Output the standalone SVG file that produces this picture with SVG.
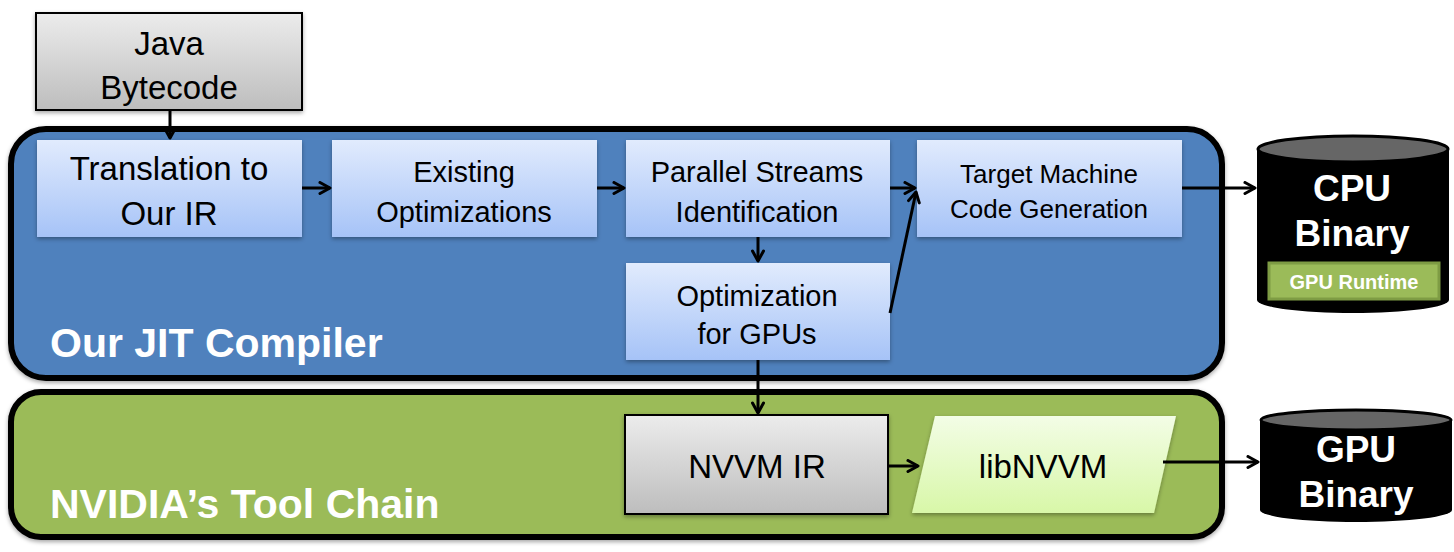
<svg xmlns="http://www.w3.org/2000/svg" width="1454" height="552" viewBox="0 0 1454 552">
<defs>
<linearGradient id="gGray" x1="0" y1="0" x2="0" y2="1"><stop offset="0" stop-color="#ececec"/><stop offset="1" stop-color="#bdbdbd"/></linearGradient>
<linearGradient id="gBlue" x1="0" y1="0" x2="0" y2="1"><stop offset="0" stop-color="#e1ebfd"/><stop offset="1" stop-color="#a6c3f7"/></linearGradient>
<linearGradient id="gLime" x1="0" y1="0" x2="0" y2="1"><stop offset="0" stop-color="#f3fde6"/><stop offset="1" stop-color="#d8f7a8"/></linearGradient>
<filter id="sh" x="-10%" y="-10%" width="120%" height="130%"><feDropShadow dx="0" dy="2" stdDeviation="2" flood-color="#000" flood-opacity="0.35"/></filter>
<marker id="ah" viewBox="0 0 14 14" refX="12" refY="7" markerWidth="14" markerHeight="14" markerUnits="userSpaceOnUse" orient="auto"><path d="M2,1.5 L12,7 L2,12.5" fill="none" stroke="#000" stroke-width="3" stroke-linecap="round" stroke-linejoin="round"/></marker>
</defs>
<style>
.t{font-family:"Liberation Sans",Arial,sans-serif;fill:#000;text-anchor:middle}
.w{font-family:"Liberation Sans",Arial,sans-serif;fill:#fff;font-weight:bold}
.box{fill:url(#gBlue);filter:url(#sh)}
.gray{fill:url(#gGray);stroke:#000;stroke-width:2;filter:url(#sh)}
.c{fill:none;stroke:#000;stroke-width:3;marker-end:url(#ah)}
</style>
<rect x="0" y="0" width="1454" height="552" fill="#fff"/>
<g id="jit">
<rect x="11" y="129" width="1211" height="249" rx="35" fill="#4f81bd" stroke="#000" stroke-width="6" filter="url(#sh)"/>
<text class="w" x="50" y="357" font-size="41">Our JIT Compiler</text>
</g>
<g id="nvidia">
<rect x="11" y="392" width="1211" height="145" rx="30" fill="#9bbb59" stroke="#000" stroke-width="6" filter="url(#sh)"/>
<text class="w" x="50" y="518" font-size="41">NVIDIA’s Tool Chain</text>
</g>
<g id="java">
<rect x="36" y="13" width="266" height="97" class="gray"/>
<text class="t" x="169" y="55" font-size="33">Java</text>
<text class="t" x="169" y="99" font-size="33">Bytecode</text>
</g>
<g id="translation">
<rect x="37" y="140" width="265" height="97" class="box"/>
<text class="t" x="169" y="180" font-size="33">Translation to</text>
<text class="t" x="169" y="225" font-size="33">Our IR</text>
</g>
<g id="existing">
<rect x="332" y="140" width="265" height="97" class="box"/>
<text class="t" x="464" y="182" font-size="29">Existing</text>
<text class="t" x="464" y="222" font-size="29">Optimizations</text>
</g>
<g id="parallel">
<rect x="626" y="140" width="264" height="97" class="box"/>
<text class="t" x="757" y="182" font-size="29">Parallel Streams</text>
<text class="t" x="757" y="222" font-size="29">Identification</text>
</g>
<g id="target">
<rect x="917" y="140" width="265" height="97" class="box"/>
<text class="t" x="1049" y="183" font-size="26">Target Machine</text>
<text class="t" x="1049" y="218" font-size="26">Code Generation</text>
</g>
<g id="optgpu">
<rect x="626" y="263" width="264" height="97" class="box"/>
<text class="t" x="757" y="306" font-size="29">Optimization</text>
<text class="t" x="757" y="344" font-size="29">for GPUs</text>
</g>
<g id="nvvmir">
<rect x="625" y="415" width="263" height="99" class="gray"/>
<text class="t" x="757" y="478" font-size="33">NVVM IR</text>
</g>
<g id="libnvvm">
<path d="M935,416 L1176,416 L1154,513 L912,513 Z" fill="url(#gLime)" filter="url(#sh)"/>
<text class="t" x="1043" y="478" font-size="33">libNVVM</text>
</g>
<g id="cpubin">
<path d="M1257,149 L1257,300 A96,13 0 0 0 1449,300 L1449,149 Z" fill="#000"/>
<ellipse cx="1353" cy="149" rx="95" ry="13" fill="#666" stroke="#000" stroke-width="3"/>
<text class="w" x="1352" y="201" font-size="37" text-anchor="middle">CPU</text>
<text class="w" x="1352" y="246" font-size="37" text-anchor="middle">Binary</text>
<rect x="1269" y="263" width="170" height="36" fill="#9bbb59" stroke="#7e9c44" stroke-width="3"/>
<text class="w" x="1354" y="289" font-size="20" text-anchor="middle">GPU Runtime</text>
</g>
<g id="gpubin">
<path d="M1260,420 L1260,510 A96,12 0 0 0 1452,510 L1452,420 Z" fill="#000"/>
<ellipse cx="1356" cy="420" rx="95" ry="10" fill="#666" stroke="#000" stroke-width="3"/>
<text class="w" x="1356" y="462" font-size="37" text-anchor="middle">GPU</text>
<text class="w" x="1356" y="507" font-size="37" text-anchor="middle">Binary</text>
</g>
<g id="connectors">
<line class="c" x1="170" y1="111" x2="170" y2="138"/>
<line class="c" x1="302" y1="188" x2="330" y2="188"/>
<line class="c" x1="597" y1="188" x2="624" y2="188"/>
<line class="c" x1="890" y1="188" x2="915" y2="188"/>
<line class="c" x1="758" y1="237" x2="758" y2="261"/>
<line class="c" x1="890" y1="313" x2="916" y2="192"/>
<line class="c" x1="758" y1="360" x2="758" y2="413"/>
<line class="c" x1="1182" y1="188" x2="1255" y2="188"/>
<line class="c" x1="888" y1="466" x2="918" y2="466"/>
<line class="c" x1="1163" y1="462" x2="1258" y2="462"/>
</g>
</svg>
